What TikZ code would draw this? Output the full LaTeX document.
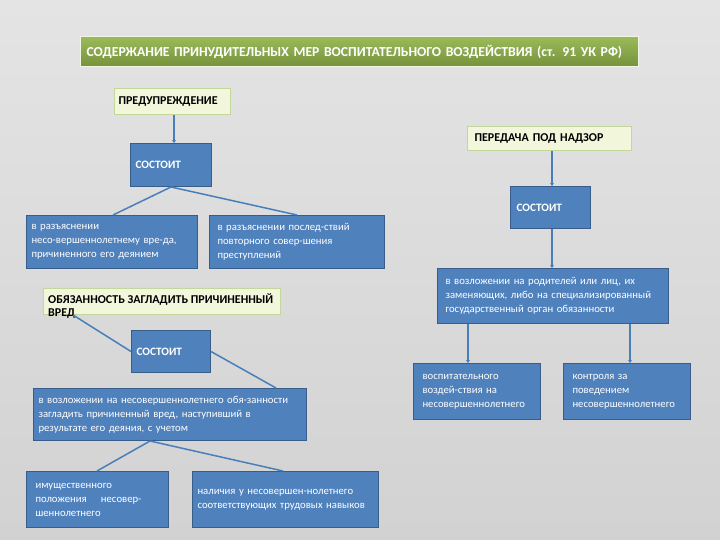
\documentclass[tikz,border=0pt]{standalone}
\usepackage{fontspec}
\setmainfont{Carlito}
\usetikzlibrary{arrows.meta,calc}
\definecolor{bluebox}{HTML}{4F81BD}
\definecolor{blueedge}{HTML}{385D8A}
\definecolor{conncol}{HTML}{4A7EBB}
\definecolor{lightfill}{HTML}{F2F7DC}
\definecolor{lightedge}{HTML}{C3D69B}
\definecolor{greentop}{HTML}{9BBB59}
\definecolor{greenbot}{HTML}{76923C}
\definecolor{bgtop}{HTML}{E4E4E4}
\definecolor{bgbot}{HTML}{D2D2D2}
\begin{document}
\begin{tikzpicture}[x=1pt,y=-1pt,
  bbox/.style={draw=blueedge, line width=1pt, fill=bluebox, text=white,
    font=\fontsize{10.7}{14}\selectfont, align=left, anchor=north west, inner sep=0pt},
  sbox/.style={bbox, font=\bfseries\fontsize{11.3}{13}\selectfont},
  lbox/.style={draw=lightedge, line width=1pt, fill=lightfill, text=black,
    font=\bfseries\fontsize{12}{13}\selectfont, align=left, anchor=north west, inner sep=0pt},
  conn/.style={draw=conncol, line width=1.5pt},
  arr/.style={conn, -{Stealth[length=3pt,width=4pt]}}
]
\shade[top color=bgtop, bottom color=bgbot] (0,0) rectangle (720,540);
\useasboundingbox (0,0) rectangle (720,540);

% title
\node[draw=white!85!greentop, line width=1pt, top color=greentop, bottom color=greenbot,
  text=white, font=\bfseries\fontsize{13.7}{15}\selectfont, anchor=north west,
  minimum width=558, minimum height=30, text width=546, align=left, inner sep=0pt]
  (title) at (80,36) {СОДЕРЖАНИЕ ПРИНУДИТЕЛЬНЫХ МЕР ВОСПИТАТЕЛЬНОГО ВОЗДЕЙСТВИЯ (ст. 91 УК РФ)};

% left branch
\node[lbox, minimum width=116, minimum height=26, text width=108] (warn) at (114,88) {ПРЕДУПРЕЖДЕНИЕ};
\node[sbox, minimum width=81, minimum height=43, text width=71] (s1) at (130,143) {СОСТОИТ};
\node[bbox, minimum width=171, minimum height=53, text width=161] (l1) at (26,215)
  {в разъяснении\\несо-вершеннолетнему вре-да,\\причиненного его деянием};
\node[bbox, minimum width=175, minimum height=53, text width=159] (r1) at (209,215)
  {в разъяснении послед-ствий\\повторного совер-шения\\преступлений};

\node[lbox, minimum width=237, minimum height=26] (obl) at (43,288) {};
\node[anchor=north west, inner sep=0pt, align=left, font=\bfseries\fontsize{12}{13}\selectfont]
  (oblt) at (48,293) {ОБЯЗАННОСТЬ ЗАГЛАДИТЬ ПРИЧИНЕННЫЙ\\ВРЕД};
\node[sbox, minimum width=79, minimum height=42, text width=69] (s3) at (131,330) {СОСТОИТ};
\node[bbox, minimum width=273, minimum height=52, text width=263] (m3) at (33,388)
  {в возложении на несовершеннолетнего обя-занности\\загладить причиненный вред, наступивший в\\результате его деяния, с учетом};
\node[bbox, minimum width=142, minimum height=56, text width=124] (b1) at (26,471)
  {имущественного\\положения \quad несовер-\\шеннолетнего};
\node[bbox, minimum width=186, minimum height=56, text width=176] (b2) at (192,471)
  {наличия у несовершен-нолетнего\\соответствующих трудовых навыков};

% right branch
\node[lbox, minimum width=164, minimum height=24, text width=150] (sup) at (467,126) {ПЕРЕДАЧА ПОД НАДЗОР};
\node[sbox, minimum width=80, minimum height=42, text width=68] (s2) at (510,186) {СОСТОИТ};
\node[bbox, minimum width=231, minimum height=55, text width=215] (r2) at (437,268)
  {в возложении на родителей или лиц, их\\заменяющих, либо на специализированный\\государственный орган обязанности};
\node[bbox, minimum width=127, minimum height=56, text width=109] (c1) at (413,363)
  {воспитательного\\воздей-ствия на\\несовершеннолетнего};
\node[bbox, minimum width=127, minimum height=56, text width=109] (c2) at (563,363)
  {контроля за\\поведением\\несовершеннолетнего};

% connectors
\draw[arr] (warn.south -| 174,0) -- (s1.north -| 174,0);
\draw[conn] (s1.south) -- ($(l1.north west)+(87,0)$);
\draw[conn] (s1.south) -- ($(r1.north west)+(88,0)$);
\draw[arr] (sup.south -| 552,0) -- (s2.north -| 552,0);
\draw[arr] (s2.south -| 552,0) -- (r2.north -| 552,0);
\draw[arr] (r2.south -| 468,0) -- (c1.north -| 468,0);
\draw[arr] (r2.south -| 630,0) -- (c2.north -| 630,0);
\draw[conn] ($(obl.south west)+(30,0)$) -- (s3.west);
\draw[conn] (s3.east) -- ($(m3.north east)+(-31,0)$);
\draw[conn] ($(m3.south west)+(117,0)$) -- ($(b1.north west)+(71,0)$);
\draw[conn] ($(m3.south west)+(117,0)$) -- ($(b2.north west)+(91,0)$);
\end{tikzpicture}
\end{document}
